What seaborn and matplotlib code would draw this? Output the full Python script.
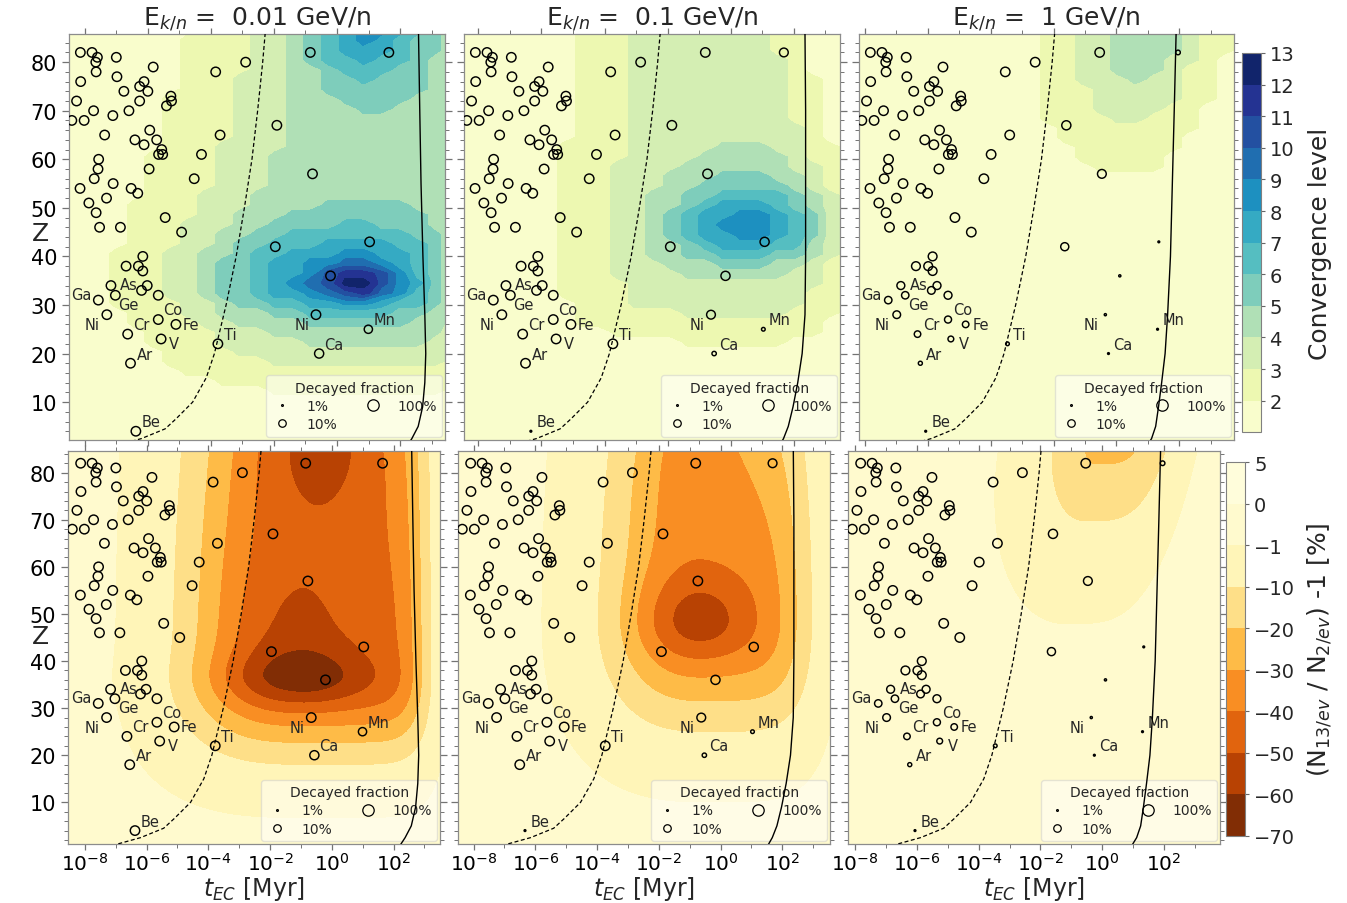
import numpy as np
import matplotlib
matplotlib.use("Agg")
import matplotlib.pyplot as plt
from matplotlib.lines import Line2D
from matplotlib.ticker import FixedLocator, LogFormatterMathtext, NullFormatter, MultipleLocator
import seaborn as sns

sns.set_style("ticks")
plt.rcParams["font.family"] = ["DejaVu Sans"]
plt.rcParams["mathtext.fontset"] = "dejavusans"

# ------------------------------------------------------------------ data
ENERGY_LABELS = ["0.01", "0.1", "1"]
ENERGIES_GEV_N = [0.01, 0.1, 1.0]
NUCLEON_MASS_GEV = 0.9315

# isotopes: log10(t_EC / Myr) and charge Z
LOG_TEC = [-8.14, -7.77, -7.60, -7.65, -7.64, -7.00, -8.13, -6.98, -6.76, -6.26,
           -6.12, -6.00, -5.83, -8.26, -7.72, -7.11, -6.60, -6.26, -5.27, -5.25,
           -5.41, -8.41, -8.02, -7.37, -6.41, -6.12, -5.94, -5.72, -5.56, -5.66,
           -5.53, -7.56, -7.58, -7.70, -7.10, -5.96, -8.15, -6.53, -6.32, -7.87,
           -7.31, -7.64, -7.53, -6.87, -5.45, -4.93, -4.53, -4.30, -3.71, -3.85,
           -2.90, -1.91, -0.85, 1.64, -0.78, -1.96, 1.03, -0.21, -0.67, 0.99,
           -0.57, -3.78, -6.38, -6.55, -6.64, -5.67, -5.11, -5.58, -7.30, -7.57,
           -7.03, -7.17, -6.20, -6.02, -5.67, -6.69, -6.30, -6.16, -6.16]
Z_ISO = [82, 82, 81, 80, 78, 81, 76, 77, 74, 75,
         76, 74, 79, 72, 70, 69, 70, 72, 73, 72,
         71, 68, 68, 65, 64, 63, 66, 64, 62, 61,
         61, 60, 58, 56, 55, 58, 54, 54, 53, 51,
         52, 49, 46, 46, 48, 45, 56, 61, 65, 78,
         80, 67, 82, 82, 57, 42, 43, 36, 28, 25,
         20, 22, 4, 18, 24, 27, 26, 23, 28, 31,
         32, 34, 33, 34, 32, 38, 38, 40, 37]

# decayed fraction of each isotope at the three energies
FRAC_E001 = [1.0, 1.0, 1.0, 1.0, 1.0, 1.0, 1.0, 1.0, 1.0, 1.0,
             1.0, 1.0, 1.0, 1.0, 1.0, 1.0, 1.0, 1.0, 1.0, 1.0,
             1.0, 1.0, 1.0, 1.0, 1.0, 1.0, 1.0, 1.0, 1.0, 1.0,
             1.0, 1.0, 1.0, 1.0, 1.0, 1.0, 1.0, 1.0, 1.0, 1.0,
             1.0, 1.0, 1.0, 1.0, 1.0, 1.0, 1.0, 1.0, 1.0, 1.0,
             1.0, 1.0, 1.0, 1.0, 1.0, 1.0, 1.0, 1.0, 1.0, 0.4,
             0.8, 1.0, 1.0, 1.0, 1.0, 1.0, 1.0, 1.0, 1.0, 1.0,
             1.0, 1.0, 1.0, 1.0, 1.0, 1.0, 1.0, 1.0, 1.0]
FRAC_E01 = [1.0, 1.0, 1.0, 1.0, 1.0, 1.0, 1.0, 1.0, 1.0, 1.0,
            1.0, 1.0, 1.0, 1.0, 1.0, 1.0, 1.0, 1.0, 1.0, 1.0,
            1.0, 1.0, 1.0, 1.0, 1.0, 1.0, 1.0, 1.0, 1.0, 1.0,
            1.0, 1.0, 1.0, 1.0, 1.0, 1.0, 1.0, 1.0, 1.0, 1.0,
            1.0, 1.0, 1.0, 1.0, 1.0, 1.0, 1.0, 1.0, 1.0, 1.0,
            1.0, 1.0, 1.0, 0.6, 1.0, 1.0, 0.8, 0.8, 0.6, 0.025,
            0.035, 1.0, 0.01, 1.0, 1.0, 1.0, 1.0, 1.0, 1.0, 1.0,
            1.0, 1.0, 1.0, 1.0, 1.0, 1.0, 1.0, 1.0, 1.0]
FRAC_E1 = [1.0, 1.0, 1.0, 1.0, 1.0, 1.0, 1.0, 1.0, 1.0, 1.0,
           1.0, 1.0, 1.0, 1.0, 1.0, 1.0, 1.0, 1.0, 1.0, 1.0,
           1.0, 1.0, 1.0, 1.0, 1.0, 1.0, 1.0, 1.0, 1.0, 1.0,
           1.0, 1.0, 1.0, 1.0, 1.0, 1.0, 1.0, 1.0, 1.0, 1.0,
           1.0, 1.0, 1.0, 1.0, 1.0, 1.0, 1.0, 1.0, 1.0, 1.0,
           1.0, 0.8, 1.0, 0.04, 0.6, 0.35, 0.01, 0.012, 0.012, 0.01,
           0.01, 0.025, 0.01, 0.03, 0.1, 0.15, 0.1, 0.07, 0.25, 0.2,
           0.2, 0.3, 0.25, 0.3, 0.3, 0.6, 0.6, 0.6, 0.6]
FRACS = [FRAC_E001, FRAC_E01, FRAC_E1]

# element labels: isotope index and text offset (pixels, +y up)
LABEL_NAMES = ["Be", "Ar", "Cr", "V", "Co", "Fe", "Ti", "Ni", "Ga", "Ge", "As", "Ni", "Ca", "Mn"]
LABEL_IDX = [62, 63, 64, 67, 65, 66, 61, 68, 69, 70, 71, 58, 60, 59]
LABEL_DX = [15.0, 14.0, 13.3, 13.0, 14.7, 15.0, 12.3, -14.7, -17.3, 13.3, 17.7, -14.3, 14.7, 16.0]
LABEL_DY = [9.3, 9.0, 9.7, -4.7, 10.0, 0.0, 9.7, -10.0, 5.7, -9.0, 0.7, -10.0, 9.3, 9.3]

# dashed curve (same for all energies, in t_EC)
DASH_Z = [86, 80, 70, 60, 50, 40, 30, 20, 15, 10, 6.6, 4.5, 2.5, 1.1]
DASH_LOGT = [-2.28, -2.36, -2.52, -2.70, -2.94, -3.20, -3.52, -3.89, -4.15, -4.58,
             -5.10, -5.45, -6.20, -6.97]
# solid curves, one per energy
SOLID_Z = [86, 70, 55, 40, 28, 20, 14, 9, 5, 2.5, 1.0]
SOLID_LOGT_E001 = [2.58, 2.62, 2.66, 2.72, 2.78, 2.81, 2.78, 2.71, 2.57, 2.37, 2.22]
SOLID_LOGT_E01 = [2.31, 2.33, 2.33, 2.33, 2.31, 2.22, 2.08, 1.93, 1.78, 1.63, 1.50]
SOLID_LOGT_E1 = [1.58, 1.52, 1.46, 1.40, 1.31, 1.23, 1.12, 1.02, 0.93, 0.80, 0.66]
SOLID_LOGT = [SOLID_LOGT_E001, SOLID_LOGT_E01, SOLID_LOGT_E1]

# contour levels
CONV_LEVELS = list(range(1, 14))
CONV_TICKS = list(range(2, 14))
DIFF_LEVELS = [-70, -60, -50, -40, -30, -20, -10, -1, 0, 5]

# convergence-level maps (top row), described by a plateau and blobs
TOP_BASE = 1.5
# plateau: amp, left edge, left width, left-edge slope with Z, right edge, right width,
#          right-edge slope with Z, slope start Z, bottom edge, bottom width
TOP_PLATEAU_E001 = [3.2, -4.13, 1.35, 0.045, 3.6, 0.2, 0.0, 50, 17.4, 3.4]
TOP_PLATEAU_E01 = [2.1, -4.48, 0.88, 0.012, 2.84, 0.48, 0.033, 50, 25.5, 2.74]
TOP_PLATEAU_E1 = [0.0, -4.0, 1.0, 0.0, 3.0, 0.5, 0.0, 50, 20.0, 3.0]
TOP_PLATEAUS = [TOP_PLATEAU_E001, TOP_PLATEAU_E01, TOP_PLATEAU_E1]
# blob: amp, u0, z0, s_left, s_right, p_left, p_right, s_down, s_up, p_down, p_up, tilt
TOP_BLOBS_E001 = [[4.0, 0.8, 88, 1.2, 1.2, 2, 2, 8.5, 8.5, 2, 2, 0],
                  [3.8, 0.6, 34.5, 0.8, 0.8, 2, 2, 2.2, 2.2, 2, 2, 0],
                  [4.5, 0.6, 34.5, 3.2, 1.6, 2, 2, 4.5, 8.0, 2, 2, 0]]
TOP_BLOBS_E01 = [[5.1, 0.45, 46.3, 1.72, 1.7, 2, 2, 5.3, 6.2, 2, 1.6, 0]]
TOP_BLOBS_E1 = [[3.4, 0.6, 88, 1.8, 1.35, 2, 2, 16, 16, 2, 2, 0.02]]
TOP_BLOBS = [TOP_BLOBS_E001, TOP_BLOBS_E01, TOP_BLOBS_E1]
# coarse simulation grid of the convergence maps
TOP_GRID_U0, TOP_GRID_DU = -0.86, 0.56
TOP_GRID_Z0, TOP_GRID_DZ = 0.5, 2.0

# relative difference maps (bottom row), negative blobs on a slightly negative base
BOT_BASE = -0.5
BOT_BLOBS_E001 = [[44, -0.8, 39, 3.0, 3.5, 3.0, 8, 13.5, 60, 2.5, 2, 0],
                  [15, -0.8, 36.5, 2.0, 1.5, 2, 2, 4.5, 4.5, 2, 2, 0],
                  [9.5, -1.0, 38, 1.5, 1.2, 2, 2, 5, 19, 2, 2, 0],
                  [22, -0.3, 90, 1.6, 1.4, 2, 2, 14, 10, 2, 2, 0]]
BOT_BLOBS_E01 = [[36, -0.6, 50, 2.3, 2.9, 2.6, 5, 17, 38, 2.5, 2, 0],
                 [19, -0.7, 48.5, 1.34, 1.12, 2, 2, 6, 7, 2, 2, 0],
                 [12, -0.9, 92, 1.4, 1.3, 2, 2, 16, 10, 2, 2, 0]]
BOT_BLOBS_E1 = [[22, -0.3, 89, 1.2, 1.95, 2, 4, 15, 15, 2, 2, 0.03]]
BOT_BLOBS = [BOT_BLOBS_E001, BOT_BLOBS_E01, BOT_BLOBS_E1]

# legend marker sizes (points) for 1%, 10%, 100%
LEG_FRACS = ["1%", "10%", "100%"]
LEG_MS = [1.3, 5.4, 8.2]
SIZE_FRAC_REF = [0.01, 0.1, 1.0]
SIZE_DIAM_PX = [1.8, 6.5, 9.4]


# ------------------------------------------------------------------ helpers
def side_profile(d, s_neg, s_pos, p_neg, p_pos):
    s = np.where(d < 0, s_neg, s_pos)
    p = np.where(d < 0, p_neg, p_pos)
    return np.exp(-0.5 * np.abs(d / s) ** p)


def blob(U, Z, b):
    amp, u0, z0, sl, sr, pl, pr, sd, su, pd, pu, tilt = b
    du = U - (u0 + tilt * (Z - z0))
    dz = Z - z0
    return amp * side_profile(du, sl, sr, pl, pr) * side_profile(dz, sd, su, pd, pu)


def logistic(x):
    return 1.0 / (1.0 + np.exp(-x))


def plateau(U, Z, p):
    amp, a0, wl, slope_l, b0, wr, slope_r, zk, c0, wb = p
    a = a0 + slope_l * np.maximum(Z - zk, 0)
    b = b0 - slope_r * np.maximum(Z - zk, 0)
    return amp * logistic((U - a) / wl) * logistic((b - U) / wr) * logistic((Z - c0) / wb)


def conv_field(U, Z, k):
    F = np.full_like(U, TOP_BASE) + plateau(U, Z, TOP_PLATEAUS[k])
    for b in TOP_BLOBS[k]:
        F = F + blob(U, Z, b)
    # convergence level is an integer: each cell sits in the middle of its band
    return np.floor(np.clip(F, 1.0, 12.99)) + 0.5


def diff_field(U, Z, k):
    D = np.full_like(U, BOT_BASE)
    for b in BOT_BLOBS[k]:
        D = D - blob(U, Z, b)
    return np.clip(D, -69.9, 4.9)


def marker_area(frac):
    d = np.interp(np.log10(frac), np.log10(SIZE_FRAC_REF), SIZE_DIAM_PX)
    return (d * 0.72) ** 2


W, H = 1347, 904
fig = plt.figure(figsize=(W / 100, H / 100), dpi=100)


def fax(x0, y0, x1, y1):
    return fig.add_axes([x0 / W, 1 - y1 / H, (x1 - x0) / W, (y1 - y0) / H])


top_axes = [fax(69, 35, 445, 440.5), fax(464, 35, 840, 440.5), fax(859, 35, 1234, 440.5)]
bot_axes = [fax(68, 452, 440, 845), fax(458, 452, 830, 845), fax(848, 452, 1220, 845)]
cax_top = fax(1241.5, 54, 1260.5, 433.3)
cax_bot = fax(1226, 463.3, 1245, 836.7)

TOP_XLIM = (-8.5, 3.42)
TOP_YLIM = (2.3, 85.8)
BOT_XLIM = (-8.55, 3.5)
BOT_YLIM = (1.15, 84.6)


def style_ax(ax, lg, xl, yl, xlabels, ylabels, zlabel_y):
    ax.set_xscale("log")
    ax.set_xlim(10 ** (xl[0] + lg), 10 ** (xl[1] + lg))
    ax.set_ylim(*yl)
    ax.xaxis.set_major_locator(FixedLocator([10.0 ** k for k in range(-8, 3, 2)]))
    ax.xaxis.set_minor_locator(FixedLocator([10.0 ** k for k in range(-9, 5, 2)]))
    ax.xaxis.set_major_formatter(LogFormatterMathtext())
    ax.xaxis.set_minor_formatter(NullFormatter())
    ax.yaxis.set_major_locator(MultipleLocator(10))
    ax.yaxis.set_minor_locator(MultipleLocator(2))
    ax.tick_params(which="both", direction="out", top=True, right=True,
                   color="0.45", labelcolor="black")
    ax.tick_params(axis="y", labelsize=15)
    ax.tick_params(axis="x", labelsize=14.5)
    ax.tick_params(which="major", length=5, width=0.9)
    ax.tick_params(which="minor", length=3, width=0.7)
    ax.tick_params(axis="x", which="major", length=4.5, pad=1)
    ax.tick_params(labelbottom=xlabels, labelleft=ylabels)
    for sp in ax.spines.values():
        sp.set_color("0.55")
        sp.set_linewidth(0.9)
    if xlabels:
        ax.set_xlabel(r"$t_{EC}$ [Myr]", fontsize=17, labelpad=0)
    if ylabels:
        ax.set_ylabel("Z", fontsize=18, rotation=0, ha="center", va="center")
        ax.yaxis.set_label_coords(-0.075, zlabel_y)


def decorate(ax, k, lg):
    fr = np.array(FRACS[k])
    xs = 10 ** (np.array(LOG_TEC) + lg)
    ax.plot(10 ** (np.array(DASH_LOGT) + lg), DASH_Z, color="black", lw=0.9,
            ls=(0, (3.2, 2.0)), zorder=8)
    ax.plot(10 ** (np.array(SOLID_LOGT[k]) + lg), SOLID_Z, color="black", lw=1.0, zorder=8)
    sns.scatterplot(x=xs, y=Z_ISO, s=marker_area(fr), facecolor="none",
                    edgecolor="black", linewidth=1.05, ax=ax, zorder=5, legend=False)
    for name, idx, dx, dy in zip(LABEL_NAMES, LABEL_IDX, LABEL_DX, LABEL_DY):
        ax.annotate(name, (xs[idx], Z_ISO[idx]), xytext=(dx * 0.72, dy * 0.72),
                    textcoords="offset points", ha="center", va="center",
                    fontsize=10.5, zorder=6)
    handles = [Line2D([], [], ls="none", marker="o", mfc="none", mec="black",
                      mew=0.9, ms=ms) for ms in LEG_MS]
    leg = ax.legend(handles, LEG_FRACS, title="Decayed fraction", loc="lower right",
                    ncol=2, fontsize=10, title_fontsize=10, frameon=True,
                    framealpha=0.5, edgecolor="0.8", handlelength=1.5,
                    handletextpad=1.0, columnspacing=1.8, borderaxespad=0.2,
                    labelspacing=0.3)
    leg.set_zorder(7)


# ------------------------------------------------------------------ grids
u_coarse = TOP_GRID_U0 + TOP_GRID_DU * np.arange(-15, 10)
z_coarse = np.arange(TOP_GRID_Z0, 90.0, TOP_GRID_DZ)
Uc, Zc = np.meshgrid(u_coarse, z_coarse)

u_fine = np.linspace(-8.7, 3.9, 340)
z_fine = np.linspace(0.5, 86.0, 240)
Uf, Zf = np.meshgrid(u_fine, z_fine)

cf_top = None
cf_bot = None
for k, E in enumerate(ENERGIES_GEV_N):
    lg = np.log10(1.0 + E / NUCLEON_MASS_GEV)

    ax = top_axes[k]
    cf_top = ax.contourf(10 ** (Uc + lg), Zc, conv_field(Uc, Zc, k),
                         levels=CONV_LEVELS, cmap="YlGnBu", zorder=1)
    decorate(ax, k, lg)
    style_ax(ax, lg, TOP_XLIM, TOP_YLIM, False, k == 0, 0.509)
    ax.set_title(r"E$_{k/n}$ =  " + ENERGY_LABELS[k] + " GeV/n", fontsize=18, pad=7)

    ax = bot_axes[k]
    cf_bot = ax.contourf(10 ** (Uf + lg), Zf, diff_field(Uf, Zf, k),
                         levels=DIFF_LEVELS, cmap="YlOrBr_r", zorder=1)
    decorate(ax, k, lg)
    style_ax(ax, lg, BOT_XLIM, BOT_YLIM, True, k == 0, 0.529)

cbt = fig.colorbar(cf_top, cax=cax_top, ticks=CONV_TICKS)
cbt.set_label("Convergence level", fontsize=18, labelpad=10)
cbt.ax.tick_params(labelsize=14, length=3, color="0.4")
cbt.outline.set_edgecolor("0.5")

cbb = fig.colorbar(cf_bot, cax=cax_bot, ticks=DIFF_LEVELS)
cbb.set_label(r"(N$_{13/ev}$ / N$_{2/ev}$) -1 [%]", fontsize=18, labelpad=8)
cbb.ax.tick_params(labelsize=14, length=3, color="0.4")
cbb.outline.set_edgecolor("0.5")

fig.savefig("out.png", dpi=100)
